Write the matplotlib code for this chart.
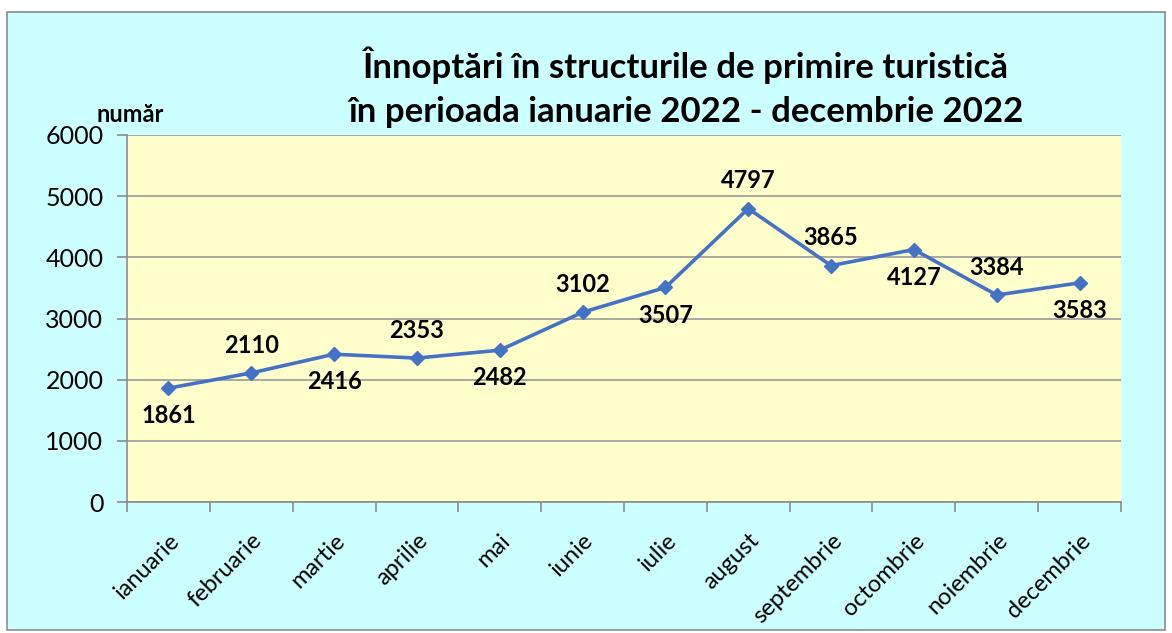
import matplotlib.pyplot as plt
import numpy as np
from matplotlib.patches import Rectangle

luni = ['ianuarie', 'februarie', 'martie', 'aprilie', 'mai', 'iunie',
        'iulie', 'august', 'septembrie', 'octombrie', 'noiembrie',
        'decembrie']
innoptari = [1861, 2110, 2416, 2353, 2482, 3102, 3507, 4797, 3865, 4127,
             3384, 3583]
# pozitia etichetei: 1 = deasupra, -1 = dedesubt
pozitie = [-1, 1, -1, 1, -1, 1, -1, 1, 1, -1, 1, -1]

plt.rcParams['font.family'] = ['Lato', 'DejaVu Sans']

fig = plt.figure(figsize=(11.72, 6.33), dpi=100)
fig.patches.append(Rectangle((7 / 1172, 3 / 633), 1158 / 1172, 618 / 633,
                             transform=fig.transFigure, facecolor='#CCFFFF',
                             edgecolor='#8C8C8C', linewidth=1.2, zorder=-1))

ax = fig.add_axes([127 / 1172, 1 - 502 / 633, 994 / 1172, 367 / 633])
ax.set_facecolor('#FFFFCC')

x = np.arange(len(luni))
ax.plot(x, innoptari, color='#4472C4', linewidth=2.6, marker='D',
        markersize=7, zorder=3)

for xi, yi, p in zip(x, innoptari, pozitie):
    ax.annotate(str(yi), (xi, yi), xytext=(0, 20 * p), textcoords='offset points',
                ha='center', va='center', fontsize=17, fontweight='bold')

ax.set_xlim(-0.5, len(luni) - 0.5)
ax.set_ylim(0, 6000)
ax.set_yticks(np.arange(0, 6001, 1000))
ax.yaxis.grid(True, color='#9A9A9A', linewidth=1.2)
ax.set_axisbelow(True)

ax.set_xticks(x)
ax.set_xticklabels(luni, rotation=45, ha='right', rotation_mode='anchor',
                   fontsize=17)
ax.set_xticks(np.arange(-0.5, len(luni), 1), minor=True)
ax.tick_params(axis='x', which='major', length=0, pad=20)
ax.tick_params(axis='x', which='minor', length=7, color='#8C8C8C', width=1.2)
ax.tick_params(axis='y', length=7, color='#8C8C8C', width=1.2, labelsize=18,
               pad=10)

for s in ['top', 'right']:
    ax.spines[s].set_visible(False)
ax.spines['left'].set_color('#8C8C8C')
ax.spines['bottom'].set_color('#8C8C8C')
ax.spines['left'].set_linewidth(1.2)
ax.spines['bottom'].set_linewidth(1.2)

fig.text(130 / 1172, 1 - 114 / 633, 'număr', ha='center', va='center',
         fontsize=17, fontweight='bold')
fig.text(686 / 1172, 1 - 87 / 633,
         'Înnoptări în structurile de primire turistică\n'
         'în perioada ianuarie 2022 - decembrie 2022',
         ha='center', va='center', fontsize=25, fontweight='bold',
         linespacing=1.45)

fig.savefig('out.png', dpi=100)
